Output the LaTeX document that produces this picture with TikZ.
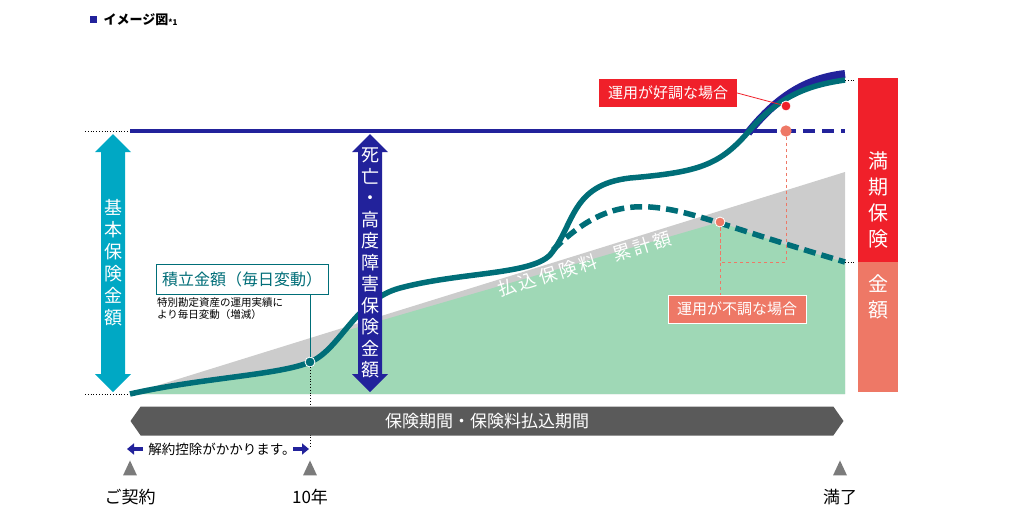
\documentclass[tikz,border=0pt]{standalone}
\usepackage{fontspec}
\setmainfont{Noto Sans CJK JP}
\usetikzlibrary{arrows.meta,shapes.symbols,shapes.geometric}
\definecolor{teal}{HTML}{006E78}
\definecolor{navy}{HTML}{22229B}
\definecolor{cyanb}{HTML}{00A8C4}
\definecolor{mint}{HTML}{9FD8B6}
\definecolor{redb}{HTML}{F0202A}
\definecolor{salmon}{HTML}{EE7866}
\definecolor{band}{HTML}{5A5A5A}
\tikzset{
  vtext/.style={text=white,align=center,font=\fontsize{18}{22}\selectfont},
  tag/.style={text=white,font=\fontsize{15}{17}\selectfont,minimum height=28pt,inner xsep=9pt},
  tick/.style={fill=band!80,isosceles triangle,shape border rotate=90,isosceles triangle apex angle=50,minimum height=15pt,inner sep=0pt},
  timelabel/.style={font=\fontsize{17}{19}\selectfont}
}
\begin{document}
\begin{tikzpicture}[x=1pt,y=-1pt]
  \useasboundingbox (0,0) rectangle (1023,528);
  % title
  \fill[navy] (90,16) rectangle (97,23);
  \node[anchor=west,font=\bfseries\fontsize{13}{15}\selectfont] (title) at (100,20) {イメージ図\raisebox{-1pt}{\fontsize{8}{9}\selectfont *1}};
  % areas
  \fill[black!20] (130,394) -- (845,172) -- (845,394) -- cycle;
  \fill[mint] (130,394) .. controls (200,378) and (280,375) .. (310,362) .. controls (325,356) and (335,345) .. (345,331)
     -- (720,222) .. controls (760,237) and (800,250) .. (845,262) -- (845,394) -- cycle;
  \node[rotate=17,text=white,font=\fontsize{18}{20}\selectfont] (paid) at (585,264) {払\,込\,保\,険\,料\quad 累\,計\,額};
  % guide lines
  \draw[dotted,thick] (85,131) -- (130,131) (85,394) -- (130,394) (845,80) -- (856,80) (845,262) -- (856,262);
  \draw[navy,line width=4pt] (130,131) -- (765,131);
  \draw[navy,line width=4pt,dash pattern=on 12pt off 7pt] (765,131) -- (845,131);
  % curves
  \draw[navy,line width=8pt] (748,133) .. controls (780,93) and (810,78) .. (845,74);
  \draw[teal,line width=5.5pt,dash pattern=on 12pt off 6pt] (553,250) .. controls (590,213) and (620,205) .. (650,207) .. controls (690,210) and (720,225) .. (845,262);
  \draw[teal,line width=5.5pt] (130,394) .. controls (200,378) and (280,375) .. (310,362) .. controls (340,350) and (355,300) .. (400,288)
     .. controls (460,272) and (530,275) .. (550,255) .. controls (575,225) and (570,185) .. (630,178)
     .. controls (700,172) and (720,165) .. (750,130) .. controls (780,95) and (810,85) .. (845,80);
  % double arrows
  \fill[cyanb] (113,134) -- (131,152) -- (125,152) -- (125,374) -- (131,374) -- (113,392) -- (95,374) -- (101,374) -- (101,152) -- (95,152) -- cycle;
  \node[vtext] (basic) at (113,263) {基\\本\\保\\険\\金\\額};
  \fill[navy] (370,134) -- (388,152) -- (382,152) -- (382,374) -- (388,374) -- (370,392) -- (352,374) -- (358,374) -- (358,152) -- (352,152) -- cycle;
  \node[vtext,font=\fontsize{18}{21.5}\selectfont] (death) at (370,263) {死\\亡\\・\\高\\度\\障\\害\\保\\険\\金\\額};
  % maturity bar
  \fill[redb] (858,78) rectangle (898,262);
  \fill[salmon] (858,262) rectangle (898,392);
  \node[vtext,font=\fontsize{20}{26}\selectfont] (mat1) at (878,200) {満\\期\\保\\険};
  \node[vtext,font=\fontsize{20}{26}\selectfont] (mat2) at (878,297) {金\\額};
  % good / bad cases
  \node[tag,fill=redb] (good) at (668,93) {運用が好調な場合};
  \node[circle,fill=redb,draw=white,thick,inner sep=3.5pt] (gdot) at (786,106) {};
  \draw[redb,thick] (good.east) -- (gdot);
  \node[circle,fill=salmon,inner sep=4pt] (ldot) at (786,131) {};
  \node[circle,fill=salmon,draw=white,thick,inner sep=3.5pt] (bdot) at (720,222) {};
  \node[tag,fill=salmon,draw=white] (bad) at (737,309) {運用が不調な場合};
  \draw[salmon,dashed] (ldot) -- (786,262) -- (720,262) -- (bdot);
  \draw[salmon,dashed] (bdot) -- (bad.north -| bdot);
  % accumulated amount
  \node[draw=teal,thick,fill=white,text=teal,font=\fontsize{16}{18}\selectfont,minimum height=30pt,inner xsep=6pt] (acc) at (242,279) {積立金額（毎日変動）};
  \node[anchor=north west,align=left,font=\fontsize{10.5}{12}\selectfont,inner sep=0pt] (accnote) at (157,297) {特別勘定資産の運用実績に\\より毎日変動（増減）};
  \node[circle,fill=teal,draw=white,thick,inner sep=3.5pt] (adot) at (310,362) {};
  \draw[teal,thick] (acc.south -| adot) -- (adot);
  \draw[dotted,thick] (adot) -- (310,448);
  % period band
  \node[signal,signal to=east and west,fill=band,text=white,minimum width=713pt,minimum height=29pt,signal pointer angle=110,font=\fontsize{17}{19}\selectfont] (period) at (487,421) {保険期間・保険料払込期間};
  \node[font=\fontsize{13.5}{15}\selectfont] (cancel) at (222,449) {解約控除がかかります。};
  \draw[navy,-{Triangle[length=7pt,width=11pt]},line width=4pt] (143,449) -- (127,449);
  \draw[navy,-{Triangle[length=7pt,width=11pt]},line width=4pt] (293,449) -- (309,449);
  % time marks
  \node[tick] (t0) at (130,471) {};
  \node[tick] (t1) at (310,471) {};
  \node[tick] (t2) at (840,471) {};
  \node[timelabel] (l0) at (130,497) {ご契約};
  \node[timelabel] (l1) at (310,497) {10年};
  \node[timelabel] (l2) at (840,497) {満了};
\end{tikzpicture}
\end{document}
